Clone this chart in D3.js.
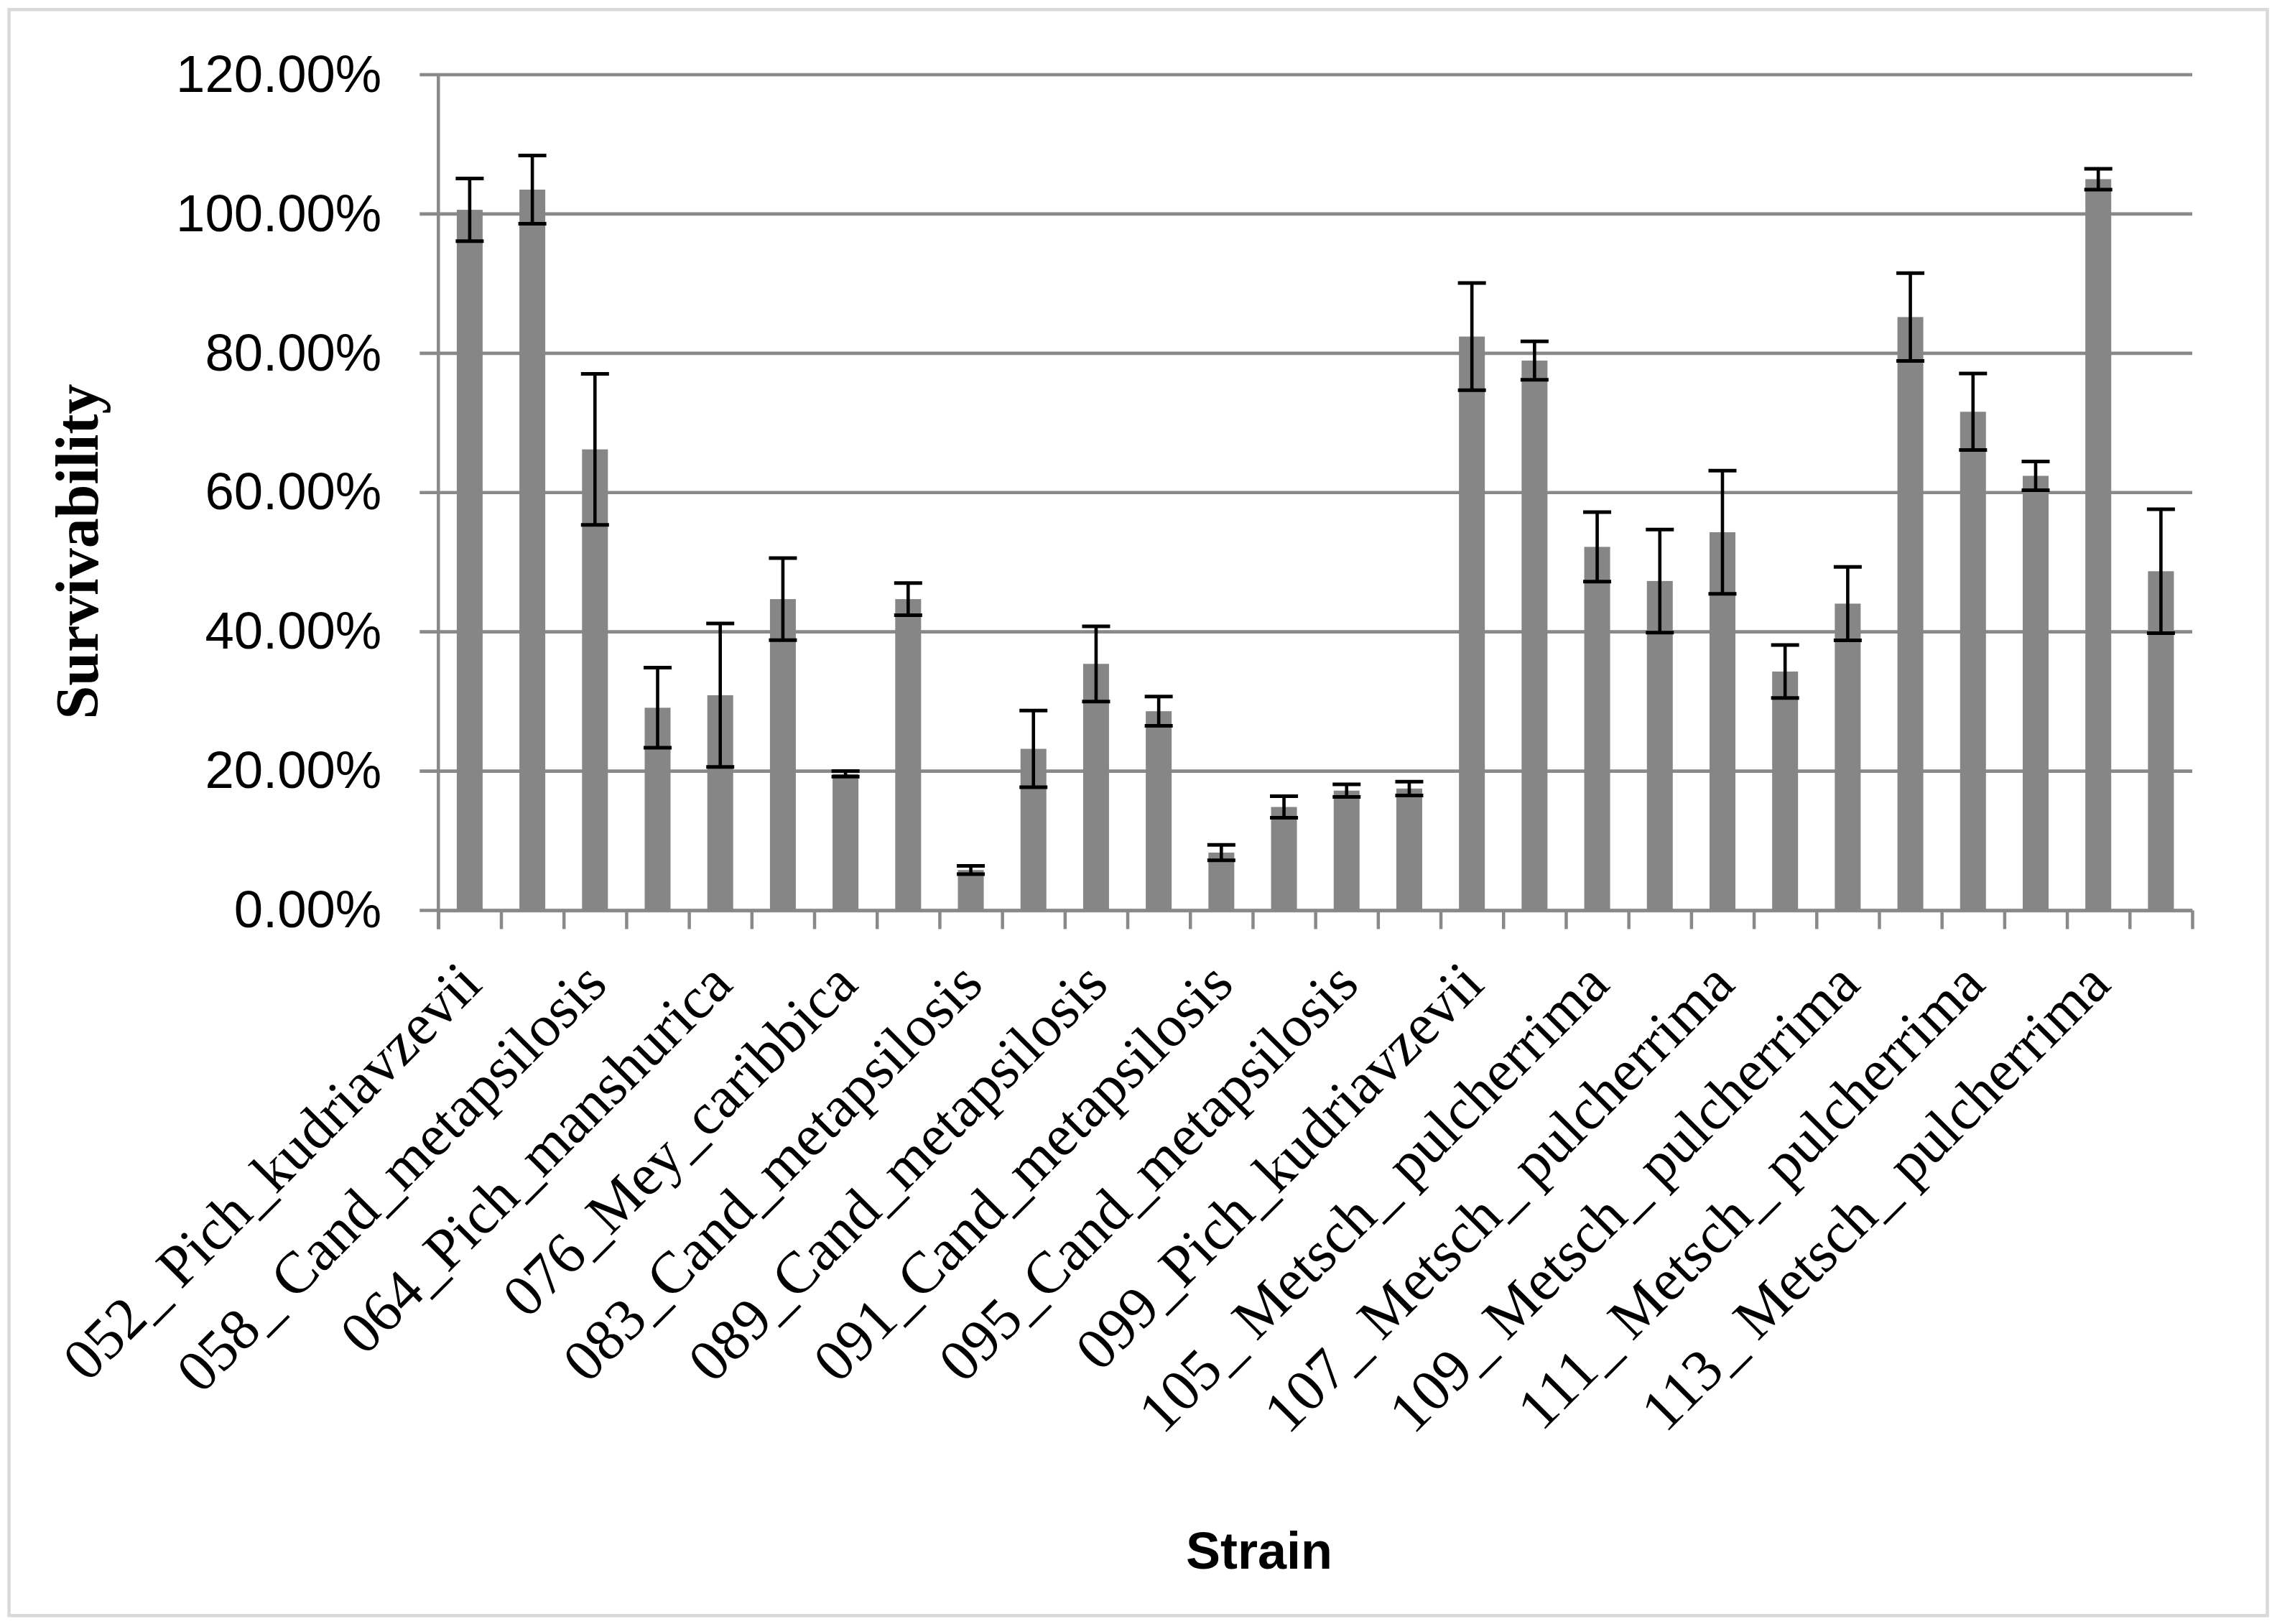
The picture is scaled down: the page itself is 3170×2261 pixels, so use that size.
<!DOCTYPE html>
<html>
<head>
<meta charset="utf-8">
<script src="https://cdn.jsdelivr.net/npm/d3@7"></script>
<style>
  html, body { margin: 0; padding: 0; background: #ffffff; }
  svg { display: block; }
</style>
</head>
<body>
<svg id="chart" width="3170" height="2261"></svg>
<script>
// ---- data ----
// 28 strains; only every other one carries a visible axis label
const strainLabels = [
  "052_ Pich_kudriavzevii", "", "058_ Cand_metapsilosis", "",
  "064_Pich_manshurica", "", "076_Mey_caribbica", "",
  "083_Cand_metapsilosis", "", "089_Cand_metapsilosis", "",
  "091_Cand_metapsilosis", "", "095_Cand_metapsilosis", "",
  "099_Pich_kudriavzevii", "", "105_ Metsch_ pulcherrima", "",
  "107_ Metsch_ pulcherrima", "", "109_ Metsch_ pulcherrima", "",
  "111_ Metsch_ pulcherrima", "", "113_ Metsch_ pulcherrima", ""
];
const survivability = [
  1.006, 1.035, 0.662, 0.291, 0.309, 0.447, 0.196, 0.447,
  0.058, 0.232, 0.354, 0.286, 0.083, 0.1485, 0.172, 0.175,
  0.824, 0.7895, 0.522, 0.473, 0.543, 0.343, 0.4405, 0.852,
  0.716, 0.624, 1.050, 0.487
];
const errors = [
  0.045, 0.049, 0.1085, 0.0575, 0.103, 0.059, 0.004, 0.023,
  0.006, 0.055, 0.054, 0.021, 0.011, 0.0155, 0.009, 0.010,
  0.077, 0.0275, 0.050, 0.074, 0.0885, 0.038, 0.0527, 0.063,
  0.055, 0.0207, 0.015, 0.089
];
const yTicks = [0, 0.2, 0.4, 0.6, 0.8, 1.0, 1.2];
const yTitle = "Survivability";
const xTitle = "Strain";

// ---- layout ----
const svg = d3.select("#chart");
const plotLeft = 610.3, plotRight = 3052, plotTop = 104, plotBottom = 1267.5;
const gridColor = "#898989", barColor = "#868686";

const idx = d3.range(survivability.length);
const x = d3.scaleBand().domain(idx).range([plotLeft, plotRight])
  .paddingInner(0.587).paddingOuter(0.2935);
const xb = d3.scaleLinear().domain([0, idx.length]).range([plotLeft, plotRight]);
const y = d3.scaleLinear().domain([0, 1.2]).range([plotBottom, plotTop]);

// chart border
svg.append("rect")
  .attr("x", 12.6).attr("y", 13.3).attr("width", 3144).attr("height", 2236)
  .attr("fill", "none").attr("stroke", "#d9d9d9").attr("stroke-width", 4.5);

// gridlines + y axis ticks
svg.append("g").selectAll("line").data(yTicks).join("line")
  .attr("x1", plotLeft - 26).attr("x2", plotRight)
  .attr("y1", d => y(d)).attr("y2", d => y(d))
  .attr("stroke", gridColor).attr("stroke-width", 4.7);

// y axis via d3 axis (labels only; lines styled separately)
const yAxis = svg.append("g")
  .attr("transform", `translate(${plotLeft},0)`)
  .call(d3.axisLeft(y).tickValues(yTicks).tickFormat(d3.format(".2%")).tickSize(0).tickPadding(79));
yAxis.select(".domain").remove();
yAxis.selectAll("text")
  .attr("font-family", "'Liberation Sans', Arial, sans-serif")
  .attr("font-size", 72.5)
  .attr("fill", "#000");

// vertical axis line
svg.append("line")
  .attr("x1", plotLeft).attr("x2", plotLeft)
  .attr("y1", plotTop - 2).attr("y2", plotBottom + 26)
  .attr("stroke", gridColor).attr("stroke-width", 4.5);

// x axis ticks at category boundaries
const xAxis = svg.append("g")
  .attr("transform", `translate(0,${plotBottom})`)
  .call(d3.axisBottom(xb).tickValues(d3.range(idx.length + 1)).tickFormat("").tickSize(26).tickSizeOuter(0));
xAxis.select(".domain").attr("stroke", gridColor).attr("stroke-width", 4.7);
xAxis.selectAll(".tick line").attr("stroke", gridColor).attr("stroke-width", 4.5);

// bars
svg.append("g").selectAll("rect").data(idx).join("rect")
  .attr("x", i => x(i))
  .attr("width", x.bandwidth())
  .attr("y", i => y(survivability[i]))
  .attr("height", i => y(0) - y(survivability[i]))
  .attr("fill", barColor);

// error bars
const eb = svg.append("g").attr("stroke", "#000");
eb.selectAll("line.stem").data(idx).join("line").attr("class", "stem")
  .attr("x1", i => x(i) + x.bandwidth() / 2).attr("x2", i => x(i) + x.bandwidth() / 2)
  .attr("y1", i => y(survivability[i] + errors[i]))
  .attr("y2", i => y(survivability[i] - errors[i]))
  .attr("stroke-width", 4.6);
["+", "-"].forEach(sgn => {
  eb.selectAll("line.cap" + (sgn === "+" ? "t" : "b")).data(idx).join("line")
    .attr("class", "cap" + (sgn === "+" ? "t" : "b"))
    .attr("x1", i => x(i) + x.bandwidth() / 2 - 19.5)
    .attr("x2", i => x(i) + x.bandwidth() / 2 + 19.5)
    .attr("y1", i => y(survivability[i] + (sgn === "+" ? 1 : -1) * errors[i]))
    .attr("y2", i => y(survivability[i] + (sgn === "+" ? 1 : -1) * errors[i]))
    .attr("stroke-width", 5);
});

// x category labels (rotated -45deg)
svg.append("g").selectAll("text").data(idx.filter(i => strainLabels[i] !== "")).join("text")
  .attr("transform", i => `translate(${x(i) + x.bandwidth() / 2 + 20},1374) rotate(-45)`)
  .attr("text-anchor", "end")
  .attr("font-family", "'Liberation Serif', 'Times New Roman', serif")
  .attr("font-size", 82)
  .attr("fill", "#000")
  .text(i => strainLabels[i]);

// axis titles
svg.append("text")
  .attr("transform", "translate(136,768) rotate(-90)")
  .attr("text-anchor", "middle")
  .attr("font-family", "'Liberation Serif', 'Times New Roman', serif")
  .attr("font-weight", "bold")
  .attr("font-size", 84)
  .attr("fill", "#000")
  .text(yTitle);

svg.append("text")
  .attr("x", 1753).attr("y", 2184)
  .attr("text-anchor", "middle")
  .attr("font-family", "'Liberation Sans', Arial, sans-serif")
  .attr("font-weight", "bold")
  .attr("font-size", 72)
  .attr("fill", "#000")
  .text(xTitle);
</script>
</body>
</html>
